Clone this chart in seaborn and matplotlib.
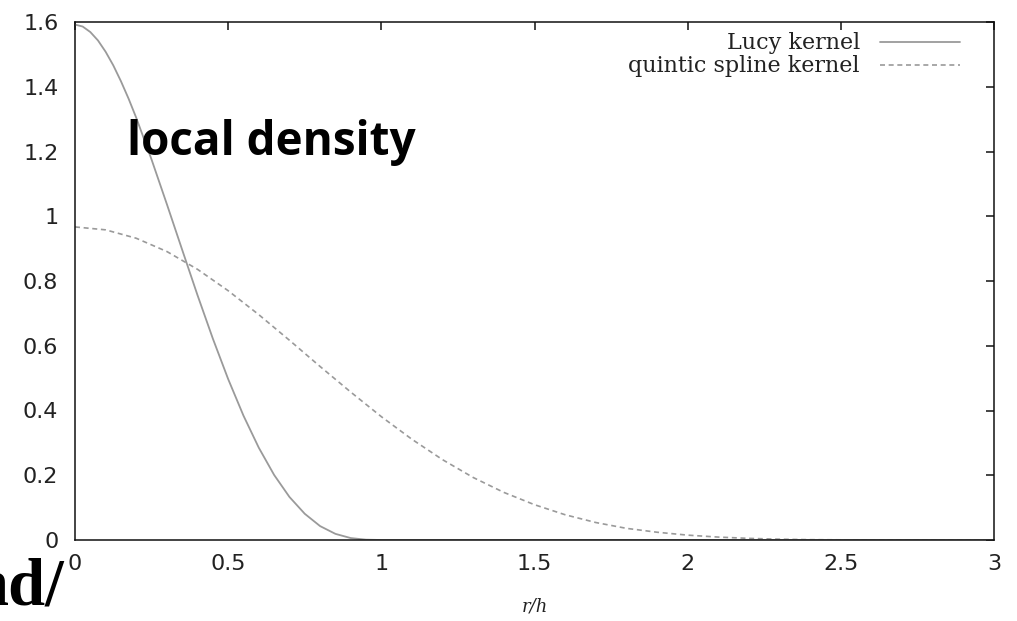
import numpy as np
import pandas as pd
import seaborn as sns
import matplotlib
matplotlib.use("Agg")
import matplotlib.pyplot as plt
from matplotlib.ticker import FixedLocator, FixedFormatter

# ======================================
# DATA
# ======================================

lucy_r = [0.000, 0.025, 0.050, 0.075, 0.100, 0.125, 0.150, 0.175, 0.200, 0.25,
          0.30, 0.35, 0.40, 0.45, 0.50, 0.55, 0.60, 0.65, 0.70, 0.75,
          0.80, 0.85, 0.90, 0.95, 1.00, 3.00]
lucy_w = [1.592, 1.586, 1.569, 1.543, 1.508, 1.466, 1.417, 1.363, 1.304, 1.175,
          1.037, 0.896, 0.756, 0.622, 0.497, 0.384, 0.285, 0.201, 0.133, 0.081,
          0.043, 0.019, 0.006, 0.001, 0.000, 0.000]

quintic_r = [0.0, 0.1, 0.2, 0.3, 0.4, 0.5, 0.6, 0.7, 0.8, 0.9,
             1.0, 1.1, 1.2, 1.3, 1.4, 1.5, 1.6, 1.7, 1.8, 1.9,
             2.0, 2.1, 2.2, 2.3, 2.4, 2.5, 2.6, 2.7, 3.0]
quintic_w = [0.967, 0.958, 0.932, 0.891, 0.836, 0.770, 0.696, 0.617, 0.536, 0.457,
             0.381, 0.311, 0.248, 0.193, 0.147, 0.109, 0.078, 0.054, 0.036, 0.024,
             0.015, 0.009, 0.005, 0.0025, 0.001, 0.0005, 0.0001, 0.0, 0.0]

x_ticks = [0, 0.5, 1, 1.5, 2, 2.5, 3]
x_tick_labels = ["0", "0.5", "1", "1.5", "2", "2.5", "3"]
y_ticks = [0, 0.2, 0.4, 0.6, 0.8, 1.0, 1.2, 1.4, 1.6]
y_tick_labels = ["0", "0.2", "0.4", "0.6", "0.8", "1", "1.2", "1.4", "1.6"]

series_labels = ["Lucy kernel", "quintic spline kernel"]

# ======================================
# FIGURE
# ======================================

sns.set_style("white")

fig = plt.figure(figsize=(10.17, 6.21), dpi=100)
ax = fig.add_axes([75 / 1017, 1 - 540 / 621, 919 / 1017, 518 / 621])

curve_color = "#9a9a9a"

sns.lineplot(
    x=lucy_r,
    y=lucy_w,
    ax=ax,
    color=curve_color,
    linewidth=1.3,
    label=series_labels[0],
)

sns.lineplot(
    x=quintic_r,
    y=quintic_w,
    ax=ax,
    color=curve_color,
    linewidth=1.2,
    linestyle=(0, (3, 2.2)),
    label=series_labels[1],
)

ax.set_xlim(0, 3)
ax.set_ylim(0, 1.6)

ax.xaxis.set_major_locator(FixedLocator(x_ticks))
ax.xaxis.set_major_formatter(FixedFormatter(x_tick_labels))
ax.yaxis.set_major_locator(FixedLocator(y_ticks))
ax.yaxis.set_major_formatter(FixedFormatter(y_tick_labels))

ax.tick_params(
    direction="in",
    length=6,
    width=1.1,
    color="#111111",
    top=True,
    right=True,
    labelsize=16,
    labelcolor="#222222",
)
ax.tick_params(axis="x", pad=10)
ax.tick_params(axis="y", pad=12)

for label in ax.get_xticklabels() + ax.get_yticklabels():
    label.set_family("DejaVu Sans")

for spine in ax.spines.values():
    spine.set_visible(True)
    spine.set_linewidth(1.1)
    spine.set_color("#111111")

ax.set_xlabel(
    "r/h",
    fontsize=13,
    fontstyle="italic",
    family="DejaVu Serif",
    color="#222222",
    labelpad=17,
)
ax.set_ylabel("")

leg = ax.legend(
    loc="upper right",
    bbox_to_anchor=(0.963, 0.980),
    frameon=False,
    markerfirst=False,
    prop={"family": "DejaVu Serif", "size": 16},
    handlelength=3.6,
    handletextpad=0.9,
    labelspacing=0.05,
    borderaxespad=0,
    borderpad=0,
)
for text in leg.get_texts():
    text.set_color("#222222")

# ======================================
# OVERLAY TEXT
# ======================================

fig.text(
    127 / 1017,
    1 - 155 / 621,
    "local density",
    fontsize=33,
    fontweight="bold",
    family=["Open Sans", "DejaVu Sans"],
    color="black",
    ha="left",
    va="baseline",
)

fig.text(
    64 / 1017,
    1 - 605 / 621,
    "nd/",
    fontsize=48,
    fontweight="bold",
    family="Liberation Serif",
    color="black",
    ha="right",
    va="baseline",
)

fig.savefig("out.png", dpi=100)
